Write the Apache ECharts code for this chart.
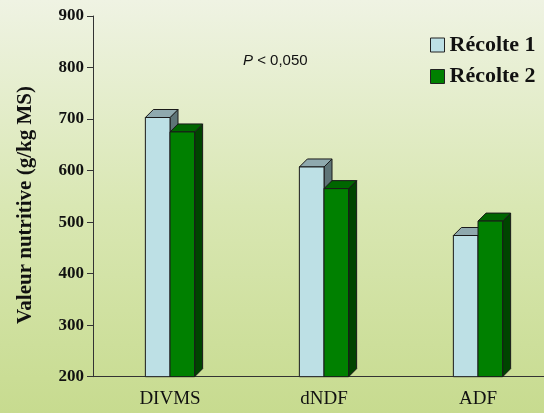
<!DOCTYPE html>
<html>
<head>
<meta charset="utf-8">
<script src="https://cdn.jsdelivr.net/npm/echarts@6/dist/echarts.min.js"></script>
<style>
html, body { margin: 0; padding: 0; overflow: hidden; }
/* la ligne de l'axe x déborde à droite de l'image d'origine */
#main { width: 555px; height: 413px; }
</style>
</head>
<body>
<div id="main"></div>
<script>
// données
var categories = ['DIVMS', 'dNDF', 'ADF'];
var seriesNames = ['Récolte 1', 'Récolte 2'];
var recolte1 = [703, 607, 474];
var recolte2 = [675, 565, 502];
var yTicks = [200, 300, 400, 500, 600, 700, 800, 900];

// couleurs des faces : avant, dessus, côté
var faces = [
	{ front: '#bde0e5', top: '#8fa9ae', side: '#5e7477' },
	{ front: '#008000', top: '#006600', side: '#004400' }
];
var depth = 8;

function bar3d (seriesIndex) {
	return function (params, api) {
		var idx = api.value(0);
		var top = api.coord([idx, api.value(1)]);
		var base = api.coord([idx, yTicks[0]]);
		var w = api.size([1, 0])[0] * 0.16;
		var xL = top[0] + (seriesIndex === 0 ? -w : 0);
		var yT = top[1], yB = base[1];
		var c = faces[seriesIndex];
		var line = { stroke: '#1a1a1a', lineWidth: 1 };
		return {
			type: 'group',
			children: [
				{
					type: 'polygon',
					shape: { points: [[xL + w, yT], [xL + w + depth, yT - depth], [xL + w + depth, yB - depth], [xL + w, yB]] },
					style: Object.assign({ fill: c.side }, line)
				},
				{
					type: 'polygon',
					shape: { points: [[xL, yT], [xL + depth, yT - depth], [xL + w + depth, yT - depth], [xL + w, yT]] },
					style: Object.assign({ fill: c.top }, line)
				},
				{
					type: 'rect',
					shape: { x: xL, y: yT, width: w, height: yB - yT },
					style: Object.assign({ fill: c.front }, line)
				}
			]
		};
	};
}

var myChart = echarts.init(document.getElementById('main'));

var option = {
	backgroundColor: {
		type: 'linear', x: 0, y: 0, x2: 0, y2: 1,
		colorStops: [
			{ offset: 0, color: '#eff3e3' },
			{ offset: 0.5, color: '#d9e7b3' },
			{ offset: 1, color: '#c7db8f' }
		]
	},
	animation: false,
	grid: {
		left: 93,
		top: 16,
		right: 0,
		bottom: 36.3
	},
	legend: {
		orient: 'vertical',
		left: 425,
		top: 29,
		icon: 'rect',
		itemWidth: 14,
		itemHeight: 14,
		itemGap: 9.5,
		textStyle: {
			fontFamily: 'Liberation Serif',
			fontWeight: 'bold',
			fontSize: 22,
			color: '#111'
		},
		data: [
			{ name: seriesNames[0], itemStyle: { color: faces[0].front, borderColor: '#222', borderWidth: 1 } },
			{ name: seriesNames[1], itemStyle: { color: faces[1].front, borderColor: '#222', borderWidth: 1 } }
		]
	},
	xAxis: {
		type: 'category',
		data: categories,
		axisLine: { lineStyle: { color: '#333', width: 1 } },
		axisTick: { length: 5, lineStyle: { color: '#333' } },
		axisLabel: {
			margin: 13,
			fontFamily: 'Liberation Serif',
			fontSize: 19,
			color: '#111'
		}
	},
	yAxis: {
		type: 'value',
		min: 200,
		max: 900,
		interval: 100,
		splitLine: { show: false },
		axisLine: { show: true, lineStyle: { color: '#333', width: 1 } },
		axisTick: { show: true, length: 6, lineStyle: { color: '#333' } },
		axisLabel: {
			margin: 9,
			fontFamily: 'Liberation Serif',
			fontWeight: 'bold',
			fontSize: 17,
			color: '#111'
		}
	},
	graphic: [
		{
			type: 'text',
			x: 26,
			y: 205,
			rotation: Math.PI / 2,
			style: {
				text: 'Valeur nutritive (g/kg MS)',
				font: 'bold 21px "Liberation Serif"',
				fill: '#111',
				align: 'center',
				verticalAlign: 'middle'
			}
		},
		{
			type: 'text',
			x: 243,
			y: 61,
			style: {
				text: '{i|P} < 0,050',
				font: '15px "Liberation Sans"',
				fill: '#111',
				verticalAlign: 'middle',
				rich: {
					i: { fontStyle: 'italic', fontFamily: 'Liberation Sans', fontSize: 15, fill: '#111' }
				}
			}
		}
	],
	series: [
		{
			name: seriesNames[0],
			type: 'custom',
			renderItem: bar3d(0),
			itemStyle: { color: faces[0].front },
			data: recolte1.map(function (v, i) { return [i, v]; }),
			encode: { x: 0, y: 1 }
		},
		{
			name: seriesNames[1],
			type: 'custom',
			renderItem: bar3d(1),
			itemStyle: { color: faces[1].front },
			data: recolte2.map(function (v, i) { return [i, v]; }),
			encode: { x: 0, y: 1 }
		}
	]
};

myChart.setOption(option);
</script>
</body>
</html>
